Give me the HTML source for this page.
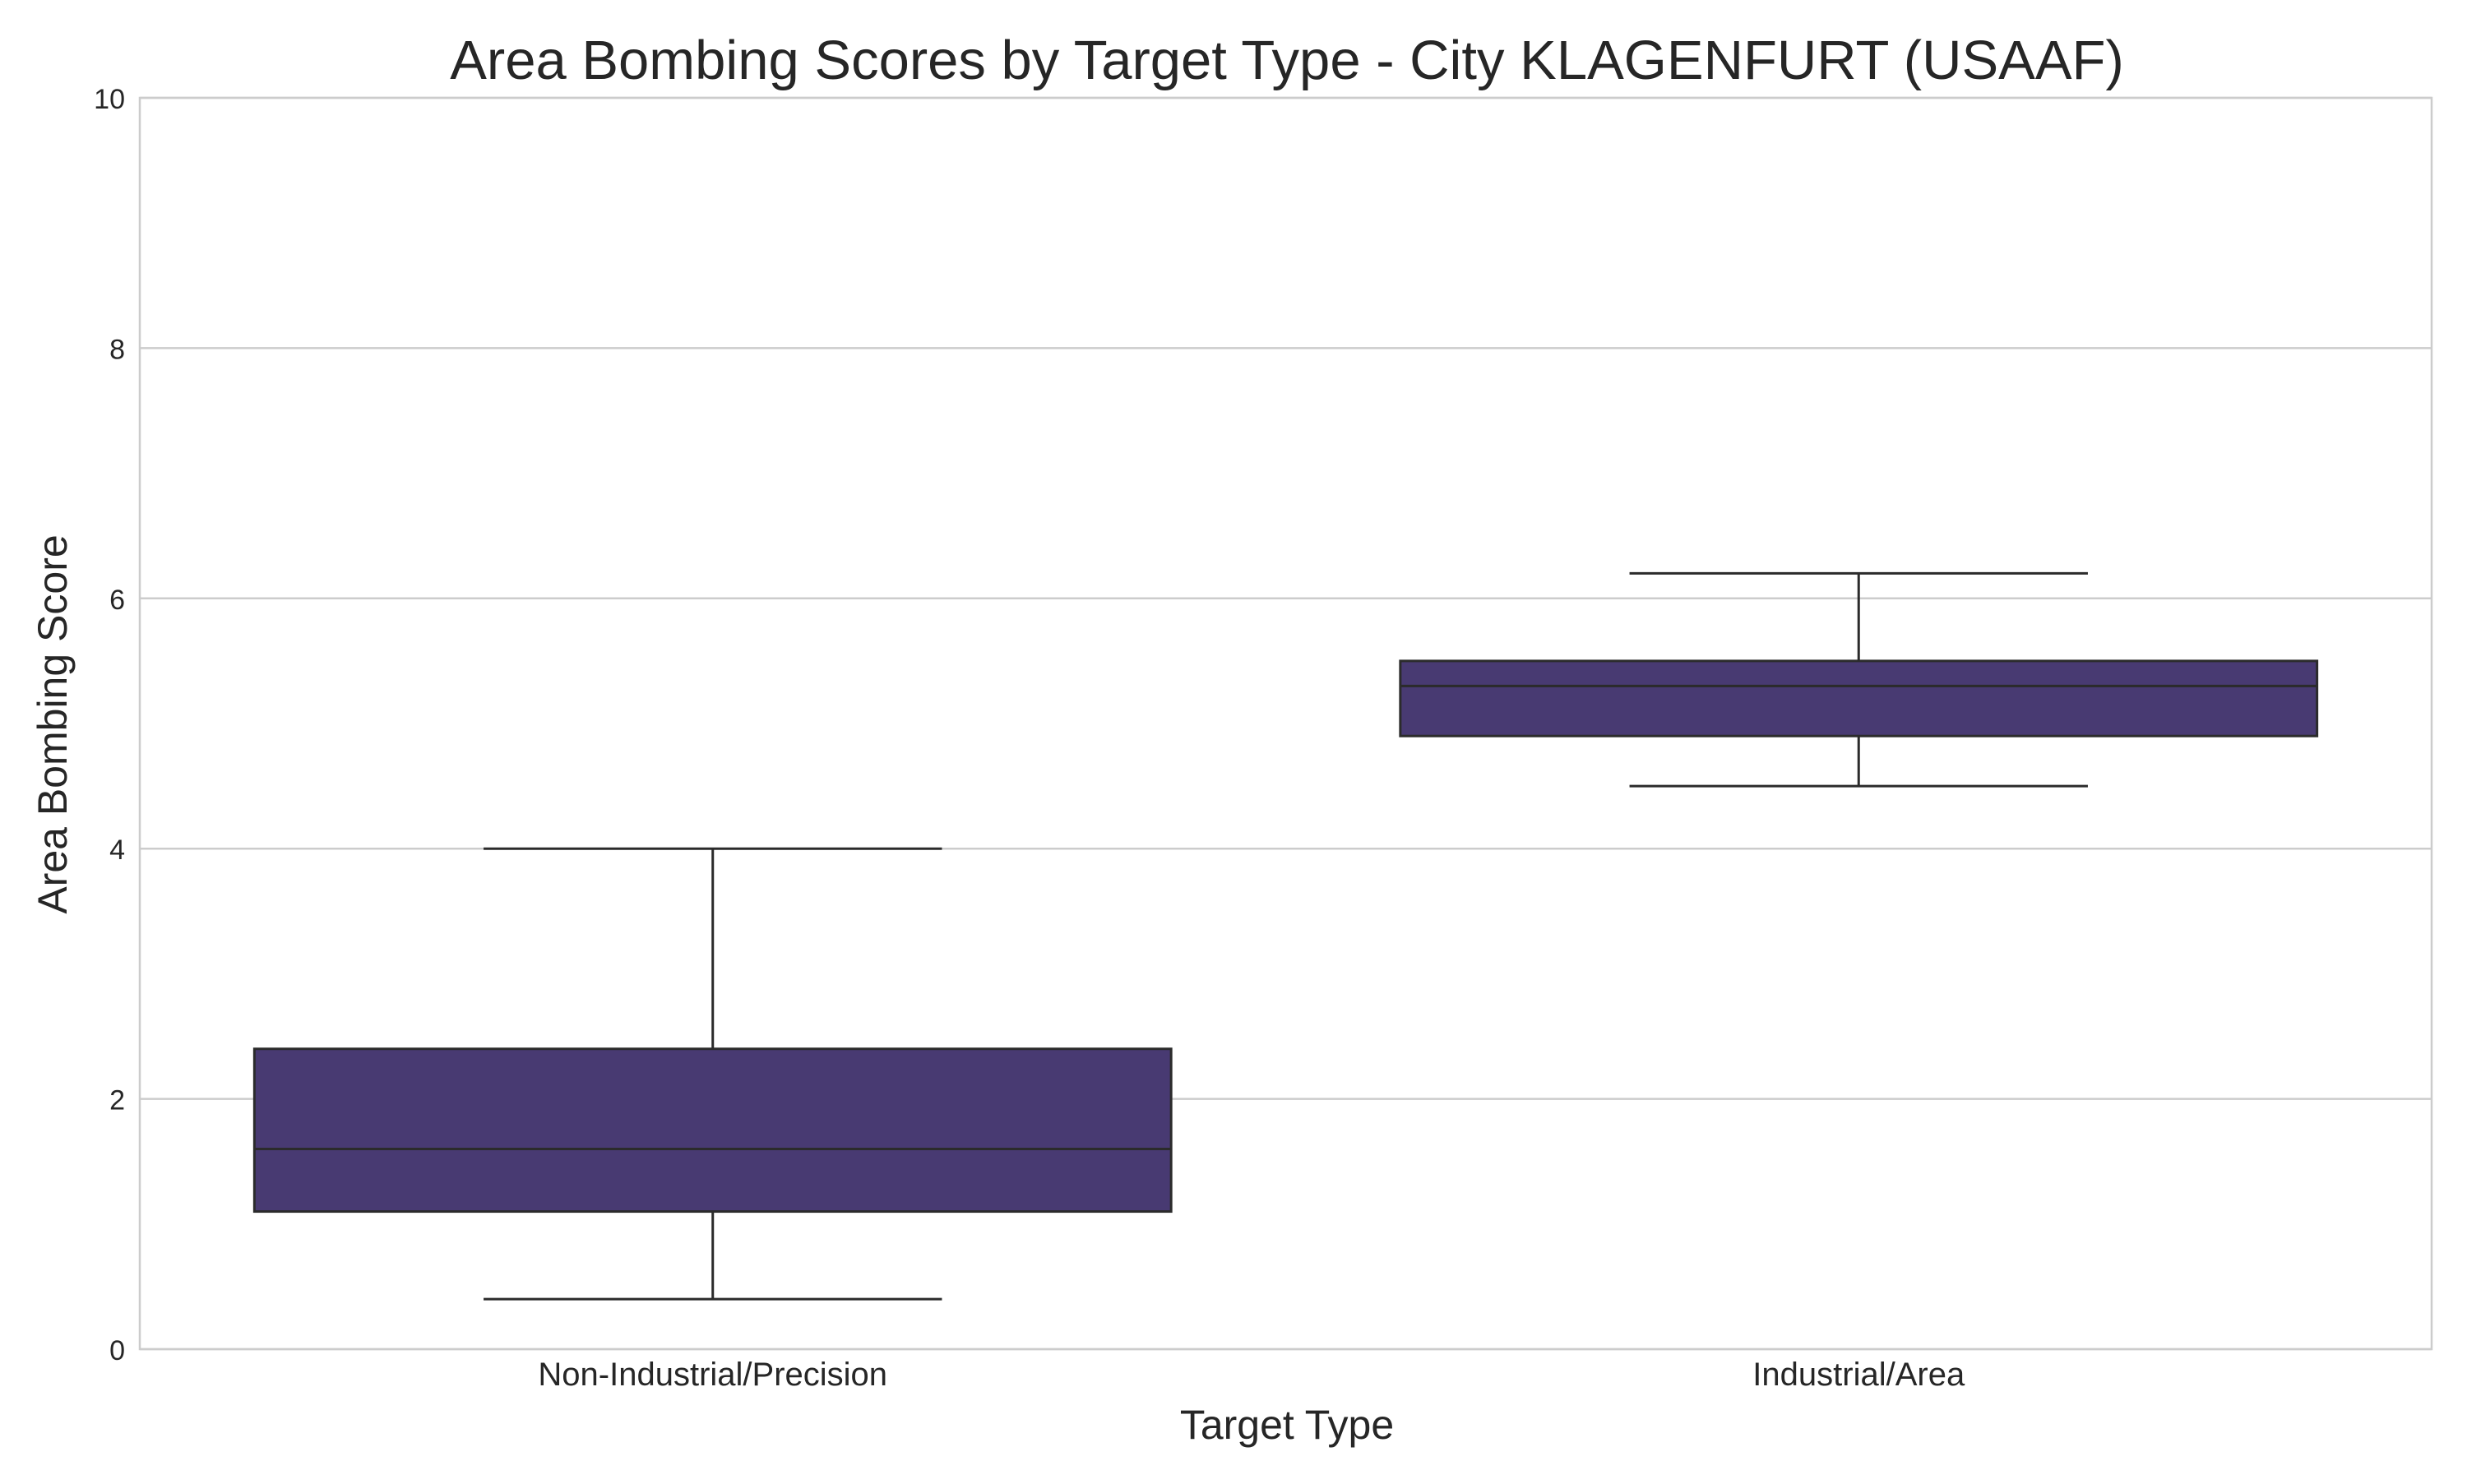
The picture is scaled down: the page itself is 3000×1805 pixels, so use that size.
<!DOCTYPE html>
<html><head><meta charset="utf-8"><style>
body{margin:0;background:#fff;}
svg text{font-family:"Liberation Sans",Arial,sans-serif;fill:#262626;}
</style></head><body>
<svg id="chart" width="3000" height="1800" viewBox="0 0 3000 1800" xmlns="http://www.w3.org/2000/svg">
<rect width="3000" height="1800" fill="#fff"/>
<g id="grid"></g>
<g id="boxes"></g>
<rect x="170" y="119" width="2787" height="1522" fill="none" stroke="#cccccc" stroke-width="2.5"/>
<g id="ticks"></g>
<text x="1565" y="96" font-size="67" text-anchor="middle">Area Bombing Scores by Target Type - City KLAGENFURT (USAAF)</text>
<text x="1565" y="1750" font-size="50" text-anchor="middle">Target Type</text>
<text x="0" y="0" font-size="50" text-anchor="middle" transform="translate(81,881) rotate(-90)">Area Bombing Score</text>
</svg>
<script>
const categories=["Non-Industrial/Precision","Industrial/Area"];
const whiskerLow=[0.4,4.5];
const q1=[1.1,4.9];
const median=[1.6,5.3];
const q3=[2.4,5.5];
const whiskerHigh=[4.0,6.2];
const yTicks=[0,2,4,6,8,10];
const ns="http://www.w3.org/2000/svg";
const L=170,R=2957,T=119,B=1641,yMin=0,yMax=10;
const y=v=>B-(v-yMin)/(yMax-yMin)*(B-T);
const band=(R-L)/categories.length;
const xc=i=>L+band*(i+0.5);
const bw=band*0.8;
function mk(tag,attrs,parent){const e=document.createElementNS(ns,tag);for(const k in attrs)e.setAttribute(k,attrs[k]);document.getElementById(parent).appendChild(e);return e;}
yTicks.forEach(t=>{
  const g=mk('line',{x1:L,x2:R,y1:y(t),y2:y(t),stroke:'#cccccc','stroke-width':2.5},'grid');
  
  
  const tx=mk('text',{x:L-18,y:y(t)+13,'font-size':34,'text-anchor':'end'},'ticks');
  
  
  tx.textContent=t;
});
categories.forEach((c,i)=>{
  const cx=xc(i);
  const s={stroke:'#2b2b2b','stroke-width':3};
  let e=mk('line',Object.assign({x1:cx,x2:cx,y1:y(whiskerLow[i]),y2:y(q1[i])},s),'boxes');
  
  
  e=mk('line',Object.assign({x1:cx,x2:cx,y1:y(q3[i]),y2:y(whiskerHigh[i])},s),'boxes');
  
  
  e=mk('line',Object.assign({x1:cx-bw/4,x2:cx+bw/4,y1:y(whiskerLow[i]),y2:y(whiskerLow[i])},s),'boxes');
  
  
  e=mk('line',Object.assign({x1:cx-bw/4,x2:cx+bw/4,y1:y(whiskerHigh[i]),y2:y(whiskerHigh[i])},s),'boxes');
  
  
  e=mk('rect',Object.assign({x:cx-bw/2,y:y(q3[i]),width:bw,height:y(q1[i])-y(q3[i]),fill:'#483a72'},s),'boxes');
  
  
  e=mk('line',Object.assign({x1:cx-bw/2,x2:cx+bw/2,y1:y(median[i]),y2:y(median[i])},s),'boxes');
  
  
  const tx=mk('text',{x:cx,y:1685,'font-size':40,'text-anchor':'middle'},'ticks');
  
  
  tx.textContent=c;
});
</script>
</body></html>
